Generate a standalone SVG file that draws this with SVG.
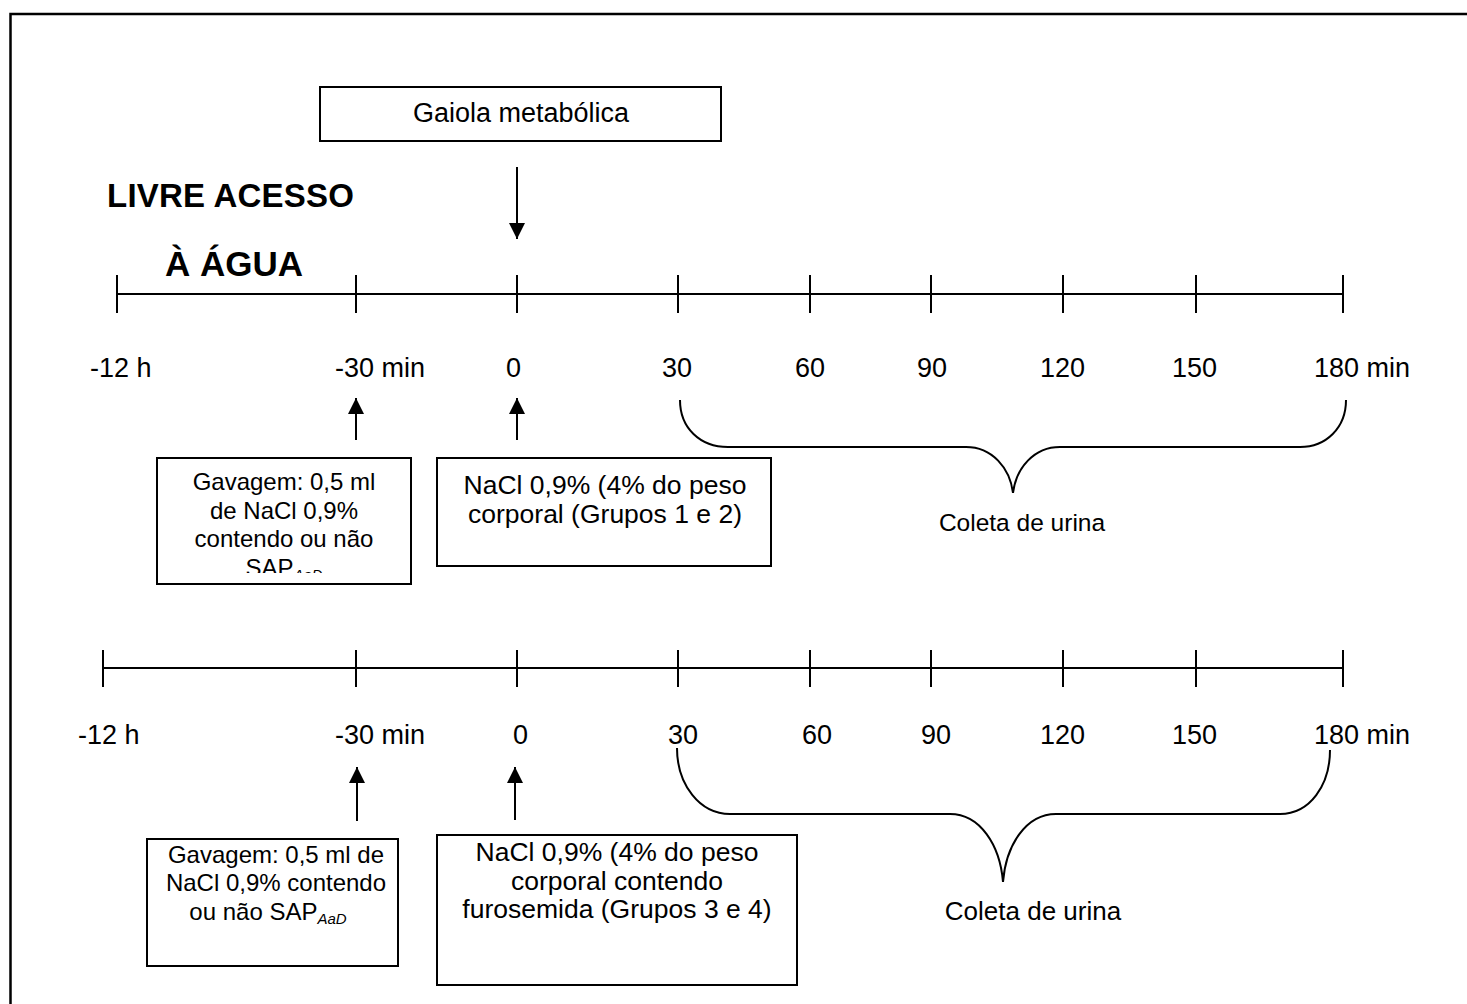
<svg xmlns="http://www.w3.org/2000/svg" width="1467" height="1004" viewBox="0 0 1467 1004">
<style>
text{font-family:"Liberation Sans",Arial,sans-serif;fill:#000}
.lbl{font-size:27px}
.box{font-size:24px;text-anchor:middle}
.boxl{font-size:26.5px;text-anchor:middle}
.bold{font-size:33px;font-weight:bold}
.ln{stroke:#000;stroke-width:2;fill:none}
.bx{stroke:#000;stroke-width:2;fill:#fff}
</style>
<defs>
<marker id="ah" markerUnits="userSpaceOnUse" markerWidth="16" markerHeight="16" refX="16" refY="8" orient="auto">
<path d="M0,0 L16,8 L0,16 Z" fill="#000"/>
</marker>
<clipPath id="c1"><rect x="157" y="458" width="254" height="115"/></clipPath>
</defs>
<rect x="10.5" y="14" width="1480" height="1010" fill="#fff" stroke="#000" stroke-width="2.5"/>

<g id="gaiola">
<rect class="bx" x="320" y="87" width="401" height="54"/>
<text class="lbl" x="521" y="122" text-anchor="middle">Gaiola metabólica</text>
</g>

<g id="livre">
<text class="bold" x="107" y="207" textLength="247" lengthAdjust="spacing">LIVRE ACESSO</text>
<text class="bold" x="165" y="276" style="font-size:35px">À ÁGUA</text>
</g>

<g id="timeline1">
<line class="ln" x1="117" y1="294" x2="1343" y2="294"/>
<path class="ln" d="M117,275V313M356,275V313M517,275V313M678,275V313M810,275V313M931,275V313M1063,275V313M1196,275V313M1343,275V313"/>
<text class="lbl" x="90" y="377">-12 h</text>
<text class="lbl" x="335" y="377">-30 min</text>
<text class="lbl" x="506" y="377">0</text>
<text class="lbl" x="662" y="377">30</text>
<text class="lbl" x="795" y="377">60</text>
<text class="lbl" x="917" y="377">90</text>
<text class="lbl" x="1040" y="377">120</text>
<text class="lbl" x="1172" y="377">150</text>
<text class="lbl" x="1314" y="377">180 min</text>
</g>

<g id="timeline2">
<line class="ln" x1="103" y1="668" x2="1343" y2="668"/>
<path class="ln" d="M103,650V687M356,650V687M517,650V687M678,650V687M810,650V687M931,650V687M1063,650V687M1196,650V687M1343,650V687"/>
<text class="lbl" x="78" y="744">-12 h</text>
<text class="lbl" x="335" y="744">-30 min</text>
<text class="lbl" x="513" y="744">0</text>
<text class="lbl" x="668" y="744">30</text>
<text class="lbl" x="802" y="744">60</text>
<text class="lbl" x="921" y="744">90</text>
<text class="lbl" x="1040" y="744">120</text>
<text class="lbl" x="1172" y="744">150</text>
<text class="lbl" x="1314" y="744">180 min</text>
</g>

<g id="connectors">
<line class="ln" x1="517" y1="167" x2="517" y2="239" marker-end="url(#ah)"/>
<line class="ln" x1="356" y1="440" x2="356" y2="398" marker-end="url(#ah)"/>
<line class="ln" x1="517" y1="440" x2="517" y2="398" marker-end="url(#ah)"/>
<line class="ln" x1="357" y1="821" x2="357" y2="767" marker-end="url(#ah)"/>
<line class="ln" x1="515" y1="820" x2="515" y2="767" marker-end="url(#ah)"/>
<path class="ln" d="M680,400 C680,428 700,447 728,447 L966,447 C992,447 1010,468 1013,493 C1016,468 1034,447 1060,447 L1300,447 C1326,447 1346,428 1346,400"/>
<path class="ln" d="M677,748 C677,785 700,814 730,814 L950,814 C980,814 1000,845 1003,882 C1006,845 1026,814 1056,814 L1280,814 C1310,814 1330,785 1330,750"/>
</g>

<g id="gavagem1">
<rect class="bx" x="157" y="458" width="254" height="126"/>
<g clip-path="url(#c1)">
<text class="box" x="284" y="490">Gavagem: 0,5 ml</text>
<text class="box" x="284" y="519">de NaCl 0,9%</text>
<text class="box" x="284" y="547">contendo ou não</text>
<text class="box" x="284" y="576">SAP<tspan font-size="15" font-style="italic" dy="4">AaD</tspan></text>
</g>
</g>

<g id="nacl1">
<rect class="bx" x="437" y="458" width="334" height="108"/>
<text class="boxl" x="605" y="494">NaCl 0,9% (4% do peso</text>
<text class="boxl" x="605" y="523">corporal (Grupos 1 e 2)</text>
</g>

<g id="coleta1">
<text class="lbl" x="1022" y="531" text-anchor="middle" style="font-size:24.5px">Coleta de urina</text>
</g>

<g id="gavagem2">
<rect class="bx" x="147" y="839" width="251" height="127"/>
<text class="box" x="276" y="863">Gavagem: 0,5 ml de</text>
<text class="box" x="276" y="891">NaCl 0,9% contendo</text>
<text class="box" x="268" y="920">ou não SAP<tspan font-size="15" font-style="italic" dy="4">AaD</tspan></text>
</g>

<g id="nacl2">
<rect class="bx" x="437" y="835" width="360" height="150"/>
<text class="boxl" x="617" y="861">NaCl 0,9% (4% do peso</text>
<text class="boxl" x="617" y="890">corporal contendo</text>
<text class="boxl" x="617" y="918">furosemida (Grupos 3 e 4)</text>
</g>

<g id="coleta2">
<text class="lbl" x="1033" y="920" text-anchor="middle" style="font-size:26px">Coleta de urina</text>
</g>
</svg>
